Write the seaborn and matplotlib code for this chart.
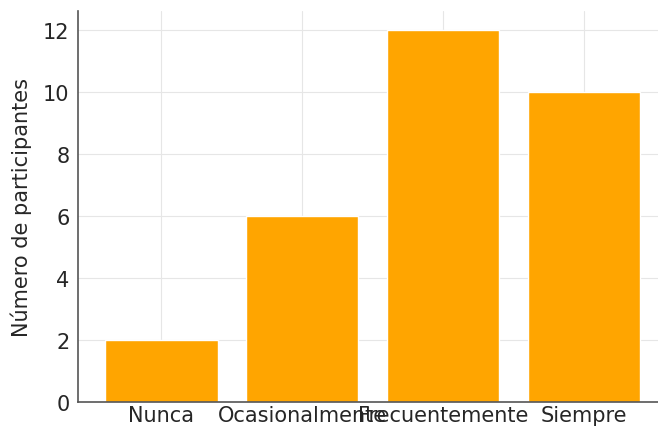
import matplotlib
matplotlib.use("Agg")
import matplotlib.pyplot as plt
import seaborn as sns
import pandas as pd

categorias = ["Nunca", "Ocasionalmente", "Frecuentemente", "Siempre"]
participantes = [2, 6, 12, 10]
y_ticks = [0, 2, 4, 6, 8, 10, 12]

df = pd.DataFrame({"categoria": categorias, "n": participantes})

sns.set_style("white")
plt.rcParams["font.family"] = ["DejaVu Sans"]

fig = plt.figure(figsize=(6.58, 4.31), dpi=100)
ax = fig.add_axes([78 / 658, 28 / 431, 589 / 658, 391 / 431])

sns.barplot(data=df, x="categoria", y="n", color="#FFA500", saturation=1,
            width=0.8, ax=ax, zorder=2)

ax.set_xlim(-0.59, 3.59)
ax.set_ylim(0, 12.6)
ax.set_yticks(y_ticks)
ax.grid(True, color="#e6e6e6", linewidth=0.8, zorder=0)
ax.set_axisbelow(True)

ax.set_xlabel("")
ax.set_ylabel("Número de participantes", fontsize=15, color="#262626", labelpad=8)
ax.tick_params(direction="in", length=4, width=0.8, color="#555555",
               labelsize=15, labelcolor="#262626")
ax.tick_params(axis="y", pad=6)
ax.tick_params(axis="x", pad=2)
for side in ["top", "right"]:
    ax.spines[side].set_visible(False)
for side in ["left", "bottom"]:
    ax.spines[side].set_color("#555555")
    ax.spines[side].set_linewidth(1.2)

fig.savefig("out.png", dpi=100)
